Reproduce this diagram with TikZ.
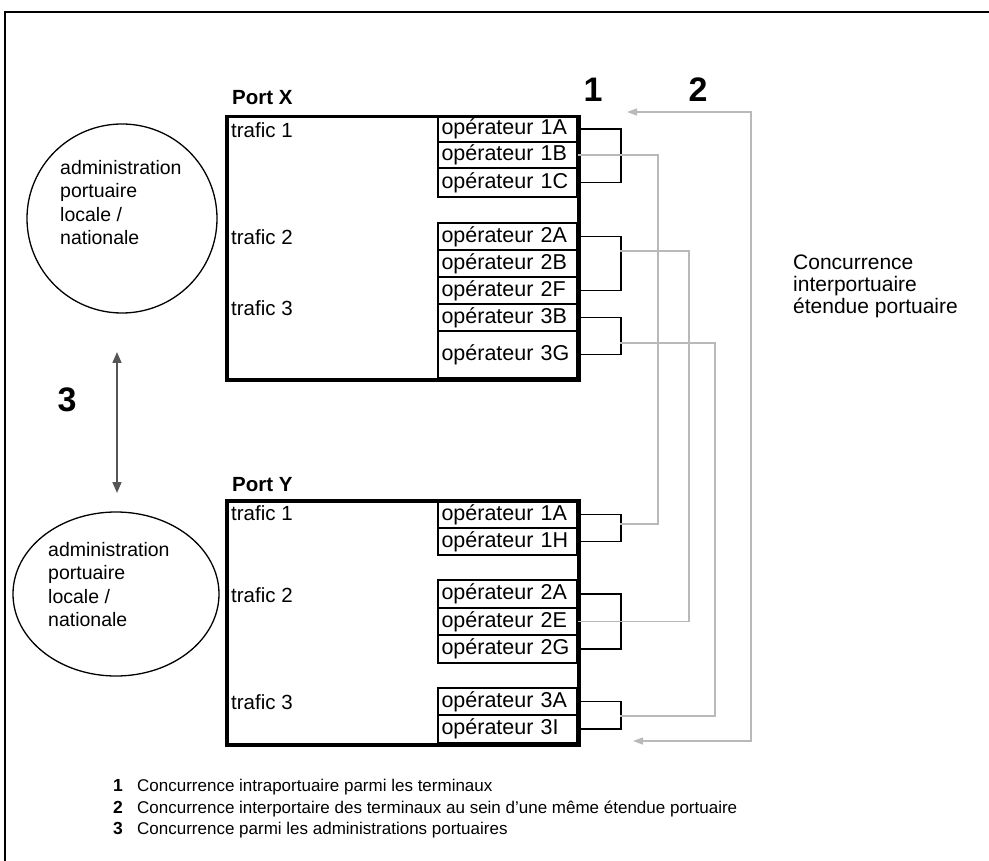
\documentclass[tikz,border=0pt]{standalone}
\usepackage{fontspec}
\setmainfont{Liberation Sans}
\usetikzlibrary{shapes.geometric,arrows.meta}
\definecolor{lgray}{RGB}{185,185,185}
\definecolor{dgray}{RGB}{85,85,85}
\begin{document}
\begin{tikzpicture}[x=1pt,y=-1pt,
  opcell/.style={draw, line width=1.4pt, minimum width=139pt, inner xsep=3.5pt, inner ysep=0pt, text width=132pt, align=left, font=\fontsize{21.5}{22}\selectfont},
  portbox/.style={draw, line width=3.5pt, anchor=north west, inner sep=0pt},
  portlabel/.style={anchor=west, inner sep=0pt, font=\bfseries\fontsize{20.5}{22}\selectfont},
  traficlabel/.style={anchor=west, inner sep=0pt, font=\fontsize{20.5}{22}\selectfont},
  bracketline/.style={line width=1.8pt},
  grayline/.style={draw=lgray, line width=1.3pt},
  graytips/.style={{Triangle[length=10pt,width=7pt,fill=lgray]}-{Triangle[length=10pt,width=7pt,fill=lgray]}},
  adminshape/.style={draw, ellipse, line width=1.3pt, inner sep=0pt},
  admintext/.style={anchor=north west, inner sep=0pt, align=left, font=\fontsize{19.5}{23.5}\selectfont},
  bignum/.style={inner sep=0pt, font=\bfseries\fontsize{34}{36}\selectfont},
  legnum/.style={anchor=base, inner sep=0pt, font=\bfseries\fontsize{17.5}{20}\selectfont},
  legtext/.style={anchor=base west, inner sep=0pt, font=\fontsize{17}{20}\selectfont}
]
\useasboundingbox (0,0) rectangle (989,861);
% outer frame
\draw[line width=1.2pt] (5,861) -- (5,12) -- (989,12);

% ---------- Port X ----------
\node[portlabel] (portxl) at (232,98) {Port X};
\node[portbox, minimum width=352pt, minimum height=263pt] (portx) at (225,115) {};
\node[traficlabel] (tx1) at (231,130) {trafic 1};
\node[traficlabel] (tx2) at (231,237) {trafic 2};
\node[traficlabel] (tx3) at (231,308) {trafic 3};
\node[opcell, minimum height=26pt] (x1a) at (507.5,129) {opérateur 1A};
\node[opcell, minimum height=26pt] (x1b) at (507.5,155) {opérateur 1B};
\node[opcell, minimum height=29pt] (x1c) at (507.5,182.5) {opérateur 1C};
\node[opcell, minimum height=27pt] (x2a) at (507.5,236.5) {opérateur 2A};
\node[opcell, minimum height=27pt] (x2b) at (507.5,263.5) {opérateur 2B};
\node[opcell, minimum height=27pt] (x2f) at (507.5,290.5) {opérateur 2F};
\node[opcell, minimum height=27pt] (x3b) at (507.5,317.5) {opérateur 3B};
\node[opcell, minimum height=47pt] (x3g) at (507.5,354.5) {opérateur 3G};

% ---------- Port Y ----------
\node[portlabel] (portyl) at (232,485) {Port Y};
\node[portbox, minimum width=352pt, minimum height=244pt] (porty) at (225,499) {};
\node[traficlabel] (ty1) at (231,513) {trafic 1};
\node[traficlabel] (ty2) at (231,595) {trafic 2};
\node[traficlabel] (ty3) at (231,702) {trafic 3};
\node[opcell, minimum height=27pt] (y1a) at (507.5,514.5) {opérateur 1A};
\node[opcell, minimum height=27pt] (y1h) at (507.5,541.5) {opérateur 1H};
\node[opcell, minimum height=28pt] (y2a) at (507.5,594) {opérateur 2A};
\node[opcell, minimum height=27pt] (y2e) at (507.5,621.5) {opérateur 2E};
\node[opcell, minimum height=28pt] (y2g) at (507.5,649) {opérateur 2G};
\node[opcell, minimum height=27pt] (y3a) at (507.5,701.5) {opérateur 3A};
\node[opcell, minimum height=28pt] (y3i) at (507.5,729) {opérateur 3I};

% ---------- brackets (1) ----------
\draw[bracketline] (x1a.east) -- ++(43,0) |- (x1c.east);
\draw[bracketline] (x2a.east) -- ++(43,0) |- (x2f.east);
\draw[bracketline] (x3b.east) -- ++(43,0) |- (x3g.east);
\draw[bracketline] (y1a.east) -- ++(43,0) |- (y1h.east);
\draw[bracketline] (y2a.east) -- ++(43,0) |- (y2g.east);
\draw[bracketline] (y3a.east) -- ++(43,0) |- (y3i.east);

% ---------- gray links (2) ----------
\coordinate (gx2) at (620,251);
\coordinate (gx3) at (620,343);
\coordinate (gy1) at (620,524);
\coordinate (gy3) at (620,716);
\coordinate (tipa) at (627,112);
\coordinate (tipb) at (633,741);
\draw[grayline] (x1b.east) -| (658,524) -- (gy1);
\draw[grayline] (gx2) -- (689,251) |- (y2e.east);
\draw[grayline] (gx3) -- (715,343) |- (gy3);
\draw[grayline, graytips] (tipa) -| (751,741) -- (tipb);

\node[bignum] (n1) at (593,90) {1};
\node[bignum] (n2) at (698,90) {2};
\node[anchor=north west, inner sep=0pt, align=left, font=\fontsize{21}{22}\selectfont] (interp) at (793,255) {Concurrence\\interportuaire\\étendue portuaire};

% ---------- administrations (3) ----------
\node[adminshape, minimum width=190pt, minimum height=189pt] (adminx) at (122,218.5) {};
\node[admintext] (adminxt) at (60,160) {administration\\portuaire\\locale /\\nationale};
\node[adminshape, minimum width=206pt, minimum height=164pt] (adminy) at (116,594) {};
\node[admintext] (adminyt) at (48,542) {administration\\portuaire\\locale /\\nationale};
\coordinate (a3top) at (117,352);
\coordinate (a3bot) at (117,493);
\draw[dgray, line width=1.6pt, {Triangle[length=11pt,width=9pt]}-{Triangle[length=11pt,width=9pt]}] (a3top) -- (a3bot);
\node[bignum] (n3) at (67,400) {3};

% ---------- legend ----------
\node[legnum] (l1) at (118,791) {1};
\node[legtext] (lt1) at (137,791) {Concurrence intraportuaire parmi les terminaux};
\node[legnum] (l2) at (118,813) {2};
\node[legtext] (lt2) at (137,813) {Concurrence interportaire des terminaux au sein d'une même étendue portuaire};
\node[legnum] (l3) at (118,834) {3};
\node[legtext] (lt3) at (137,834) {Concurrence parmi les administrations portuaires};
\end{tikzpicture}
\end{document}
